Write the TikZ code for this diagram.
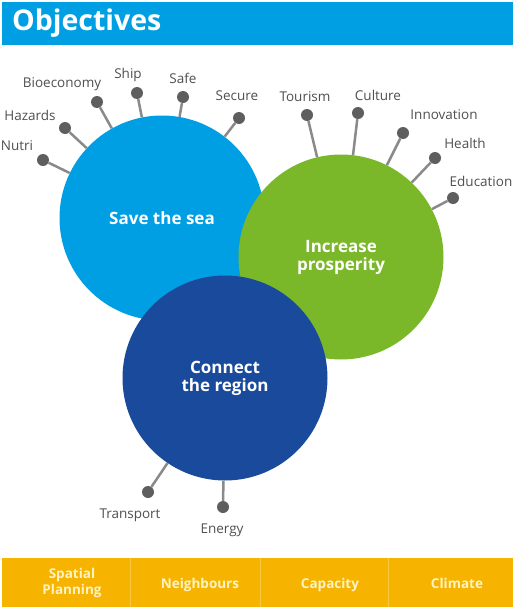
\documentclass[tikz,border=0pt]{standalone}
\usepackage{fontspec}
\setmainfont{Open Sans}
\definecolor{headblue}{HTML}{009FE3}
\definecolor{seablue}{HTML}{009FE3}
\definecolor{growgreen}{HTML}{7AB829}
\definecolor{linkblue}{HTML}{1A4A9B}
\definecolor{pingray}{HTML}{5E5E5E}
\definecolor{linegray}{HTML}{8A8A8A}
\definecolor{labelgray}{HTML}{505050}
\definecolor{tabamber}{HTML}{F6B400}
\definecolor{tabline}{HTML}{FAC93A}
\definecolor{tabtext}{HTML}{FFF3C4}
\begin{document}
\begin{tikzpicture}[x=1pt, y=-1pt,
		goal/.style = {circle, minimum size=205pt, inner sep=0pt, text=white,
			font=\bfseries\fontsize{17}{19}\selectfont, align=center},
		pin/.style = {circle, fill=pingray, minimum size=12pt, inner sep=0pt},
		stick/.style = {draw=linegray, line width=2.5pt},
		lbl/.style = {text=labelgray, font=\fontsize{13.5}{15}\selectfont, inner sep=0pt},
		tab/.style = {text=tabtext, font=\bfseries\fontsize{13.5}{15}\selectfont,
			align=center, inner sep=0pt}
	]

	\useasboundingbox[fill=white] (0,0) rectangle (515,608);

	% header
	\node[fill=headblue, anchor=north west, minimum width=511pt, minimum height=43pt,
		inner sep=0pt] (head) at (2,2) {};
	\node[anchor=west, text=white, font=\bfseries\fontsize{28.5}{30}\selectfont,
		inner sep=0pt] (title) at (12,23) {Objectives};

	% the three goals
	\node[goal, fill=seablue] (sea) at (162,218) {Save the sea};
	\node[goal, fill=growgreen] (grow) at (341,257) {Increase\\[-1pt]prosperity};
	\node[goal, fill=linkblue] (link) at (225,378) {Connect\\[-1pt]the region};

	% pins of "Save the sea"
	\foreach \tag/\px/\py/\lx/\ly/\txt in {
			nutri/43/160/17/146/Nutri,
			hazards/65/128/30/115/Hazards,
			bioeco/97/102/62/84/Bioeconomy,
			ship/137/93/128/75/Ship,
			safe/183/97/183/78/Safe,
			secure/239/118/237/96/Secure}{
		\node[pin] (\tag) at (\px,\py) {};
		\draw[stick] (\tag) -- (sea);
		\node[lbl] (\tag-lbl) at (\lx,\ly) {\txt};
	}

	% pins of "Increase prosperity"
	\foreach \tag/\px/\py/\lx/\ly/\txt in {
			tourism/307/115/305/97/Tourism,
			culture/358/113/378/95/Culture,
			innov/403/133/444/115/Innovation,
			health/435/158/465/143/Health,
			educ/453/198/481/181/Education}{
		\node[pin] (\tag) at (\px,\py) {};
		\draw[stick] (\tag) -- (grow);
		\node[lbl] (\tag-lbl) at (\lx,\ly) {\txt};
	}

	% pins of "Connect the region"
	\foreach \tag/\px/\py/\lx/\ly/\txt in {
			transport/148/492/130/515/Transport,
			energy/223/507/222/530/Energy}{
		\node[pin] (\tag) at (\px,\py) {};
		\draw[stick] (\tag) -- (link);
		\node[lbl] (\tag-lbl) at (\lx,\ly) {\txt};
	}

	% bottom tabs
	\fill[tabamber] (2,558) rectangle (513,607);
	\draw[tabline, line width=1pt] (130,558) -- (130,607)
	(260,558) -- (260,607)
	(388,558) -- (388,607);
	\node[tab] (spatial) at (72,583) {Spatial\\[1pt]Planning};
	\node[tab, anchor=base] (neighbours) at (200,588) {Neighbours};
	\node[tab, anchor=base] (capacity) at (330,588) {Capacity};
	\node[tab, anchor=base] (climate) at (457,588) {Climate};
\end{tikzpicture}
\end{document}
